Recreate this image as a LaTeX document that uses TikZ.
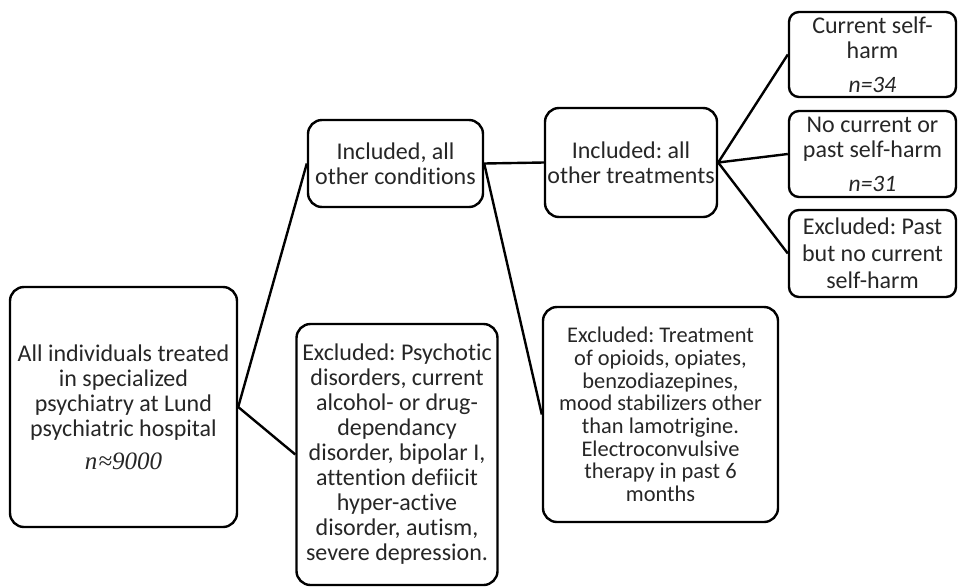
\documentclass[tikz,border=0pt]{standalone}
\usepackage{fontspec}
\setmainfont[Ligatures=NoCommon]{Carlito}
\newfontfamily\timesfont{Liberation Serif}
\definecolor{ink}{HTML}{262626}
\frenchspacing
\begin{document}
\begin{tikzpicture}[x=1pt,y=-1pt,
  box/.style={draw=black, line width=2.4pt, rounded corners=14pt,
    align=center, inner sep=0pt, text=ink,
    font=\fontsize{24}{25}\selectfont},
  smallbox/.style={box, rounded corners=10pt, minimum width=167pt},
  link/.style={draw=black, line width=2.4pt}]
\path[use as bounding box] (0,0) rectangle (958,587);

% source population
\node[box, minimum width=227pt, minimum height=240pt] (all) at (123.5,407)
  {All individuals treated\\in specialized\\psychiatry at Lund\\psychiatric hospital\\[8pt]
   {\timesfont\itshape\fontsize{25}{25}\selectfont n\kern1pt≈9000}};

% condition filter
\node[box, minimum width=201pt, minimum height=261pt] (exclcond) at (397,454.5)
  {Excluded: Psychotic\\disorders, current\\alcohol- or drug-\\dependancy\\disorder, bipolar I,\\attention defiicit\\hyper-active\\disorder, autism,\\severe depression.};
\node[box, minimum width=175pt, minimum height=87pt] (inclcond) at (395.5,163.5)
  {Included, all\\other conditions};

% treatment filter
\node[box, minimum width=172pt, minimum height=109pt] (incltreat) at (631,162.5)
  {Included: all\\other treatments};
\node[box, minimum width=235pt, minimum height=215pt,
  font=\fontsize{22.4}{22.7}\selectfont] (excltreat) at (660.5,414.5)
  {Excluded: Treatment\\of opioids, opiates,\\benzodiazepines,\\mood stabilizers other\\than lamotrigine.\\Electroconvulsive\\therapy in past 6\\months};

% self-harm groups
\node[smallbox, minimum height=85pt] (current) at (872.5,54.5)
  {Current self-\\harm\\[9pt]{\itshape\fontsize{23.5}{25}\selectfont n=34}};
\node[smallbox, minimum height=86pt] (never) at (872.5,154)
  {No current or\\past self-harm\\[9pt]{\itshape\fontsize{23.5}{25}\selectfont n=31}};
\node[smallbox, minimum height=87pt, font=\fontsize{24}{27}\selectfont] (past) at (872.5,253.5)
  {Excluded: Past\\but no current\\self-harm};

% connectors
\draw[link] (all.east) -- (inclcond.west);
\draw[link] (all.east) -- (exclcond.west);
\draw[link] (inclcond.east) -- (incltreat.west);
\draw[link] (inclcond.east) -- (excltreat.west);
\draw[link] (incltreat.east) -- (current.west);
\draw[link] (incltreat.east) -- (never.west);
\draw[link] (incltreat.east) -- (past.west);
\end{tikzpicture}
\end{document}
